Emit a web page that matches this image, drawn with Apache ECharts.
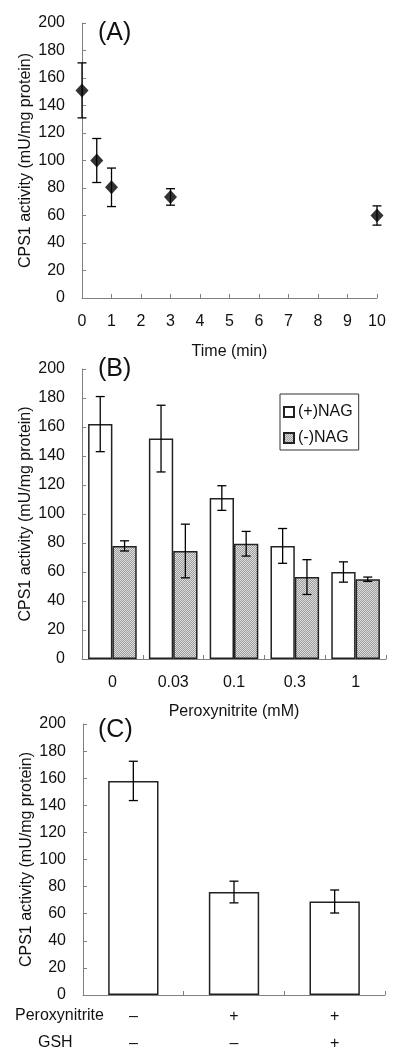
<!DOCTYPE html>
<html>
<head>
<meta charset="utf-8">
<script src="https://cdn.jsdelivr.net/npm/echarts@6/dist/echarts.min.js"></script>
<style>
html,body{margin:0;padding:0;background:#fff;}
#chart{width:400px;height:1060px;}
</style>
</head>
<body>
<div id="chart"></div>
<script>
// ---- Panel A data ----
const timeMin = [0, 0.5, 1, 3, 10];
const activityA = [151, 100, 80.5, 73.5, 60];
const errA = [20, 16, 14, 6, 7];

// ---- Panel B data ----
const doseLabels = ['0', '0.03', '0.1', '0.3', '1'];
const plusNAG = [162, 152, 111, 78, 60];
const plusNAGErr = [19, 23, 8.5, 12, 7];
const minusNAG = [78, 74.5, 79.5, 56.5, 55];
const minusNAGErr = [3.5, 18.5, 8.5, 12, 1.5];

// ---- Panel C data ----
const treatPerox = ['–', '+', '+'];
const treatGSH = ['–', '–', '+'];
const activityC = [158, 76, 69];
const errC = [14.5, 8, 8.5];

const FONT = '"Liberation Sans", Arial, sans-serif';
const AXIS_COLOR = '#808080';
const TXT = '#111';

const pc = document.createElement('canvas');
pc.width = 2; pc.height = 2;
const pctx = pc.getContext('2d');
pctx.fillStyle = '#9c9c9c'; pctx.fillRect(0, 0, 2, 2);
pctx.fillStyle = '#dedede'; pctx.fillRect(0, 0, 1, 1); pctx.fillRect(1, 1, 1, 1);
const hatch = { image: pc, repeat: 'repeat' };

function errRender(offsetFrac) {
  return function (params, api) {
    const x = api.value(0), y = api.value(1), e = api.value(2);
    const top = api.coord([x, y + e]);
    const bot = api.coord([x, y - e]);
    let off = 0;
    if (offsetFrac) off = api.size([1, 0])[0] * offsetFrac;
    const cx = top[0] + off;
    const cw = 4.5;
    const st = { stroke: '#000', lineWidth: 1.3 };
    return {
      type: 'group',
      children: [
        { type: 'line', shape: { x1: cx, y1: top[1], x2: cx, y2: bot[1] }, style: st },
        { type: 'line', shape: { x1: cx - cw, y1: top[1], x2: cx + cw, y2: top[1] }, style: st },
        { type: 'line', shape: { x1: cx - cw, y1: bot[1], x2: cx + cw, y2: bot[1] }, style: st }
      ]
    };
  };
}

function yAxis(gi) {
  return {
    type: 'value', gridIndex: gi, min: 0, max: 200, interval: 20,
    name: 'CPS1 activity (mU/mg protein)', nameLocation: 'middle', nameGap: 48,
    nameMoveOverlap: false,
    nameTextStyle: { fontFamily: FONT, fontSize: 16, color: TXT },
    axisLine: { show: true, lineStyle: { color: AXIS_COLOR, width: 1 } },
    axisTick: { show: true, inside: true, length: 4, lineStyle: { color: AXIS_COLOR } },
    axisLabel: { fontFamily: FONT, fontSize: 16, color: TXT, margin: 17 },
    splitLine: { show: false }
  };
}

const option = {
  animation: false,
  backgroundColor: '#fff',
  textStyle: { fontFamily: FONT },
  grid: [
    { left: 82, top: 23, width: 295, height: 275 },
    { left: 82, top: 369, width: 304, height: 290 },
    { left: 83, top: 724, width: 302, height: 271 }
  ],
  legend: {
    left: 280, top: 394, orient: 'vertical',
    data: ['(+)NAG', '(-)NAG'],
    icon: 'rect',
    itemWidth: 10, itemHeight: 10, itemGap: 10,
    padding: [10, 6, 4, 3],
    borderColor: '#333', borderWidth: 1,
    textStyle: { fontFamily: FONT, fontSize: 16, color: TXT, padding: [0, 0, 0, -1] }
  },
  xAxis: [
    {
      type: 'value', gridIndex: 0, min: 0, max: 10, interval: 1,
      name: 'Time (min)', nameLocation: 'middle', nameGap: 46,
      nameTextStyle: { fontFamily: FONT, fontSize: 16, color: TXT },
      axisLine: { show: true, lineStyle: { color: AXIS_COLOR } },
      axisTick: { show: true, inside: true, length: 4, lineStyle: { color: AXIS_COLOR } },
      axisLabel: { fontFamily: FONT, fontSize: 16, color: TXT, margin: 16 },
      splitLine: { show: false }
    },
    {
      type: 'category', gridIndex: 1, data: doseLabels,
      name: 'Peroxynitrite (mM)', nameLocation: 'middle', nameGap: 45,
      nameTextStyle: { fontFamily: FONT, fontSize: 16, color: TXT },
      axisLine: { show: true, lineStyle: { color: AXIS_COLOR } },
      axisTick: { show: true, inside: true, length: 4, lineStyle: { color: AXIS_COLOR } },
      axisLabel: { fontFamily: FONT, fontSize: 16, color: TXT, margin: 16 }
    },
    {
      type: 'category', gridIndex: 2, data: treatPerox.map((p, i) => i),
      axisLine: { show: true, lineStyle: { color: AXIS_COLOR } },
      axisTick: { show: true, inside: true, length: 4, lineStyle: { color: AXIS_COLOR } },
      axisLabel: {
        fontFamily: FONT, fontSize: 16, color: TXT, margin: 8, lineHeight: 27,
        formatter: function (v, i) { return treatPerox[i] + '\n' + treatGSH[i]; }
      }
    }
  ],
  yAxis: [yAxis(0), yAxis(1), yAxis(2)],
  graphic: [
    { type: 'text', left: 98, top: 21, style: { text: '(A)', font: '25px ' + FONT, fill: TXT } },
    { type: 'text', left: 98, top: 357, style: { text: '(B)', font: '25px ' + FONT, fill: TXT } },
    { type: 'text', left: 98, top: 718, style: { text: '(C)', font: '25px ' + FONT, fill: TXT } },
    { type: 'text', left: 15, top: 1008, style: { text: 'Peroxynitrite', font: '16px ' + FONT, fill: TXT } },
    { type: 'text', left: 38, top: 1035, style: { text: 'GSH', font: '16px ' + FONT, fill: TXT } }
  ],
  series: [
    {
      type: 'custom', xAxisIndex: 0, yAxisIndex: 0, z: 3,
      data: timeMin.map((t, i) => [t, activityA[i], errA[i]]),
      renderItem: errRender(0), encode: { x: 0, y: 1 }
    },
    {
      type: 'scatter', xAxisIndex: 0, yAxisIndex: 0, z: 4,
      symbol: 'diamond', symbolSize: [13, 14],
      itemStyle: { color: '#000' },
      data: timeMin.map((t, i) => [t, activityA[i]])
    },
    {
      name: '(+)NAG', type: 'bar', xAxisIndex: 1, yAxisIndex: 1,
      barCategoryGap: '20%', barGap: '0%',
      itemStyle: { color: '#fff', borderColor: '#222', borderWidth: 1.5 },
      data: plusNAG
    },
    {
      name: '(-)NAG', type: 'bar', xAxisIndex: 1, yAxisIndex: 1,
      barCategoryGap: '20%', barGap: '0%',
      itemStyle: { color: hatch, borderColor: '#222', borderWidth: 1.5 },
      data: minusNAG
    },
    {
      type: 'custom', xAxisIndex: 1, yAxisIndex: 1, z: 5,
      data: plusNAG.map((v, i) => [i, v, plusNAGErr[i]]),
      renderItem: errRender(-0.2), encode: { x: 0, y: 1 }
    },
    {
      type: 'custom', xAxisIndex: 1, yAxisIndex: 1, z: 5,
      data: minusNAG.map((v, i) => [i, v, minusNAGErr[i]]),
      renderItem: errRender(0.2), encode: { x: 0, y: 1 }
    },
    {
      type: 'bar', xAxisIndex: 2, yAxisIndex: 2,
      barCategoryGap: '50%',
      itemStyle: { color: '#fff', borderColor: '#222', borderWidth: 1.5 },
      data: activityC
    },
    {
      type: 'custom', xAxisIndex: 2, yAxisIndex: 2, z: 5,
      data: activityC.map((v, i) => [i, v, errC[i]]),
      renderItem: errRender(0), encode: { x: 0, y: 1 }
    }
  ]
};

const chart = echarts.init(document.getElementById('chart'), null, { renderer: 'canvas' });
chart.setOption(option);
</script>
</body>
</html>
